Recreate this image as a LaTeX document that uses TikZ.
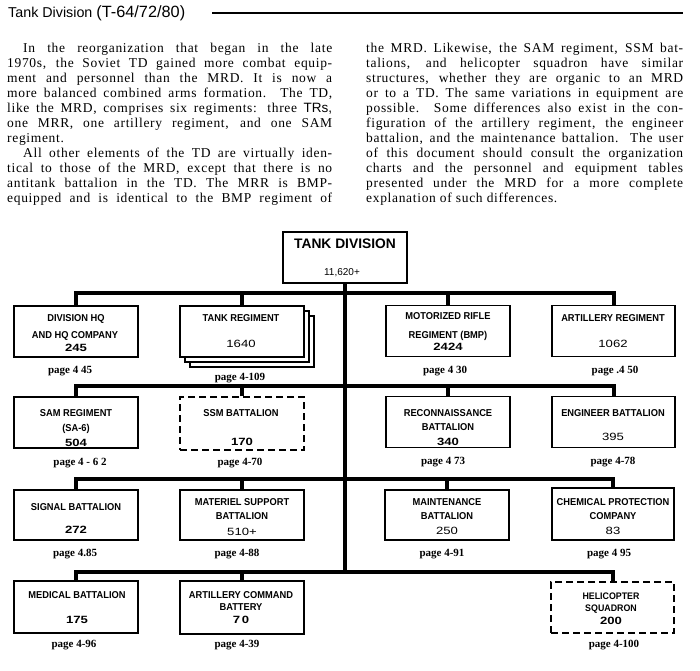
\documentclass[tikz,border=0pt]{standalone}
\usepackage{fontspec}
\setmainfont{Liberation Serif}
\newfontfamily\sansf{Liberation Sans}
\newfontfamily\chartf[FakeStretch=0.93]{Liberation Sans}
\newfontfamily\numf[FakeStretch=1.25]{Liberation Sans}
\newfontfamily\bodyf[LetterSpace=5]{Liberation Serif}
\usetikzlibrary{calc}
\tikzset{
  box/.style={draw, line width=1.5pt, fill=white, minimum width=124pt, minimum height=51pt, inner sep=0pt},
  dbox/.style={box, dash pattern=on 7pt off 4pt},
  bar/.style={line width=4pt},
  hd/.style={font=\chartf\bfseries\fontsize{10}{11}\selectfont, inner sep=0pt, text height=7.2pt, text depth=0pt},
  num/.style={font=\numf\fontsize{10.5}{11}\selectfont, inner sep=0pt, text height=7.5pt, text depth=0pt},
  bnum/.style={num, font=\numf\bfseries\fontsize{10.5}{11}\selectfont},
  pg/.style={font=\bfseries\fontsize{11}{12}\selectfont, inner sep=0pt, anchor=base, yshift=-3.3pt},
}
\begin{document}
\begin{tikzpicture}[x=1pt, y=-1pt]
\useasboundingbox (0,0) rectangle (700,670);

% title
\node[anchor=base west, inner sep=0pt] (title) at (8,17)
  {\sansf\fontsize{14.3}{16}\selectfont Tank Division \fontsize{16.3}{17}\selectfont(T-64/72/80)};
\coordinate (ruleL) at (212,13);
\coordinate (ruleR) at (683,13);
\draw[line width=1.5pt] (ruleL) -- (ruleR);

% body text
\node[anchor=base west, inner sep=0pt] (colL) at (7,52) {\parbox[t]{325pt}{%
\bodyf\fontsize{13.5}{15}\selectfont\tolerance=10000\hyphenpenalty=10000\setlength\parindent{16pt}%
In the reorganization that began in the late\linebreak
1970s, the Soviet TD gained more combat equip-\linebreak
ment and personnel than the MRD. It is now a\linebreak
more balanced combined arms formation. The TD,\linebreak
like the MRD, comprises six regiments: three {\sansf TRs,}\linebreak
one MRR, one artillery regiment, and one SAM\linebreak
regiment.\par
All other elements of the TD are virtually iden-\linebreak
tical to those of the MRD, except that there is no\linebreak
antitank battalion in the TD. The MRR is BMP-\linebreak
equipped and is identical to the BMP regiment of\parfillskip=0pt\par}};

\node[anchor=base west, inner sep=0pt] (colR) at (366,52) {\parbox[t]{317pt}{%
\bodyf\fontsize{13.5}{15}\selectfont\tolerance=10000\hyphenpenalty=10000\noindent
the MRD. Likewise, the SAM regiment, SSM bat-\linebreak
talions, and helicopter squadron have similar\linebreak
structures, whether they are organic to an MRD\linebreak
or to a TD. The same variations in equipment are\linebreak
possible. Some differences also exist in the con-\linebreak
figuration of the artillery regiment, the engineer\linebreak
battalion, and the maintenance battalion. The user\linebreak
of this document should consult the organization\linebreak
charts and the personnel and equipment tables\linebreak
presented under the MRD for a more complete\linebreak
explanation of such differences.\par}};

% bar levels
\coordinate (r1) at (345,293);
\coordinate (r2) at (345,385.5);
\coordinate (r3) at (345,479);
\coordinate (r4) at (345,572);

% boxes
\node[box] (td) at (345,257.5) {};
\node[box] (hq) at (76,331.5) {};
\node[box] (tr3) at (252,341.5) {};
\node[box] (tr2) at (247,336.5) {};
\node[box] (tr) at (242,331.5) {};
\node[box] (mrr) at (448,331) {};
\node[box, minimum width=123pt] (art) at (613.5,331) {};

\node[box] (sam) at (76,422.5) {};
\node[dbox, minimum height=53pt] (ssm) at (242,423.5) {};
\node[box] (rec) at (448,422) {};
\node[box, minimum width=123pt] (eng) at (613.5,422) {};

\node[box, minimum height=50pt] (sig) at (76,515) {};
\node[box, minimum height=50pt] (mat) at (242,515) {};
\node[box, minimum height=50pt] (mnt) at (447,515) {};
\node[box, minimum width=122pt, minimum height=52pt] (chm) at (613,514) {};

\node[box, minimum height=52pt] (med) at (76,607) {};
\node[box, minimum height=53pt] (acb) at (242,607.5) {};
\node[dbox, minimum width=123pt] (hel) at (612.5,607.5) {};

% connectors
\draw[bar, line width=4.5pt] (td.south) -- (r4);
\draw[bar] (hq.north) -- (hq.north |- r1) -- (art.north |- r1) -- (art.north);
\draw[bar] (tr.north) -- (tr.north |- r1);
\draw[bar] (mrr.north) -- (mrr.north |- r1);
\draw[bar] (sam.north) -- (sam.north |- r2) -- (eng.north |- r2) -- (eng.north);
\draw[bar] (ssm.north) -- (ssm.north |- r2);
\draw[bar] (rec.north) -- (rec.north |- r2);
\draw[bar] (sig.north) -- (sig.north |- r3) -- (chm.north |- r3) -- (chm.north);
\draw[bar] (mat.north) -- (mat.north |- r3);
\draw[bar] (mnt.north) -- (mnt.north |- r3);
\draw[bar] (med.north) -- (med.north |- r4) -- (hel.north |- r4) -- (hel.north);
\draw[bar] (acb.north) -- (acb.north |- r4);

% texts
\node[hd, font=\sansf\bfseries\fontsize{13.8}{14}\selectfont, text height=9.9pt] (td-a) at (345,244) {TANK DIVISION};
\node[num, font=\sansf\fontsize{10}{11}\selectfont, text height=7.2pt] (td-n) at (342,272) {11,620+};

\node[hd] (hq-a) at (76,318) {DIVISION HQ};
\node[hd] (hq-b) at (75,335) {AND HQ COMPANY};
\node[bnum] (hq-n) at (76,348) {245};
\node[pg] (hq-p) at (70,370) {page 4 45};

\node[hd] (tr-a) at (241,318) {TANK REGIMENT};
\node[num] (tr-n) at (241,344) {1640};
\node[pg] (tr-p) at (240,377) {page 4-109};

\node[hd] (mrr-a) at (448,316) {MOTORIZED RIFLE};
\node[hd] (mrr-b) at (448,335) {REGIMENT (BMP)};
\node[bnum] (mrr-n) at (448,346.5) {2424};
\node[pg] (mrr-p) at (445,370) {page 4 30};

\node[hd] (art-a) at (613,318) {ARTILLERY REGIMENT};
\node[num] (art-n) at (613,344) {1062};
\node[pg] (art-p) at (615,370) {page .4 50};

\node[hd] (sam-a) at (76,413) {SAM REGIMENT};
\node[hd] (sam-b) at (76,428) {(SA-6)};
\node[bnum] (sam-n) at (76,443) {504};
\node[pg] (sam-p) at (80,462) {page 4 - 6 2};

\node[hd] (ssm-a) at (241,413) {SSM BATTALION};
\node[bnum] (ssm-n) at (242,442) {170};
\node[pg] (ssm-p) at (240,462) {page 4-70};

\node[hd] (rec-a) at (448,413) {RECONNAISSANCE};
\node[hd] (rec-b) at (448,427) {BATTALION};
\node[bnum] (rec-n) at (448,442) {340};
\node[pg] (rec-p) at (443,461) {page 4 73};

\node[hd] (eng-a) at (613,413) {ENGINEER BATTALION};
\node[num] (eng-n) at (613,437) {395};
\node[pg] (eng-p) at (613,461) {page 4-78};

\node[hd] (sig-a) at (76,507) {SIGNAL BATTALION};
\node[bnum] (sig-n) at (76,530) {272};
\node[pg] (sig-p) at (75,553) {page 4.85};

\node[hd] (mat-a) at (242,502) {MATERIEL SUPPORT};
\node[hd] (mat-b) at (242,516) {BATTALION};
\node[num] (mat-n) at (242,532) {510+};
\node[pg] (mat-p) at (237,553) {page 4-88};

\node[hd] (mnt-a) at (447,502) {MAINTENANCE};
\node[hd] (mnt-b) at (447,516) {BATTALION};
\node[num] (mnt-n) at (447,531) {250};
\node[pg] (mnt-p) at (442,553) {page 4-91};

\node[hd] (chm-a) at (613,502) {CHEMICAL PROTECTION};
\node[hd] (chm-b) at (613,516) {COMPANY};
\node[num] (chm-n) at (613,531) {83};
\node[pg] (chm-p) at (609,553) {page 4 95};

\node[hd] (med-a) at (77,595) {MEDICAL BATTALION};
\node[bnum] (med-n) at (77,620) {175};
\node[pg] (med-p) at (74,644) {page 4-96};

\node[hd] (acb-a) at (241,595) {ARTILLERY COMMAND};
\node[hd] (acb-b) at (241,607) {BATTERY};
\node[bnum] (acb-n) at (241,620) {7\,0};
\node[pg] (acb-p) at (237,644) {page 4-39};

\node[hd, font=\chartf\bfseries\fontsize{9.5}{10}\selectfont] (hel-a) at (611,596) {HELICOPTER};
\node[hd, font=\chartf\bfseries\fontsize{9.5}{10}\selectfont] (hel-b) at (611,607.5) {SQUADRON};
\node[bnum] (hel-n) at (611,621) {200};
\node[pg] (hel-p) at (614,644) {page 4-100};
\end{tikzpicture}
\end{document}
